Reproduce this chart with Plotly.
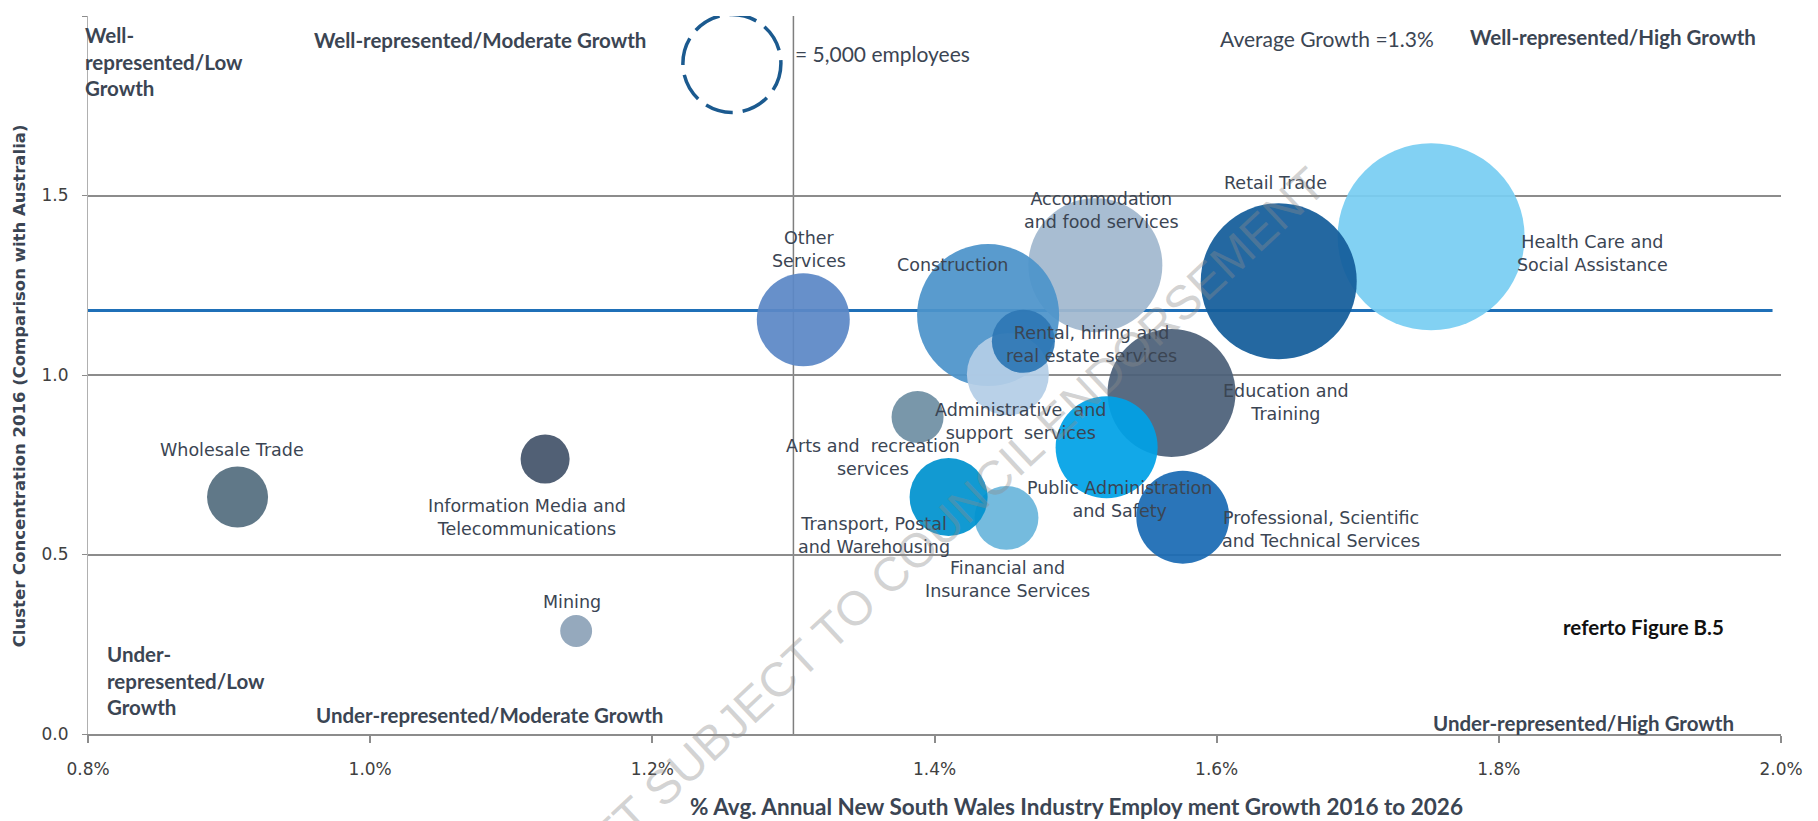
import math
import plotly.graph_objects as go

# industry clusters: growth (% p.a.), concentration (vs Australia), employees
industries = [
    "Wholesale Trade",
    "Information Media and<br>Telecommunications",
    "Mining",
    "Other<br>Services",
    "Health Care and<br>Social Assistance",
    "Retail Trade",
    "Accommodation<br>and food services",
    "Construction",
    "Administrative  and<br>support  services",
    "Rental, hiring and<br>real estate services",
    "Education and<br>Training",
    "Public Administration<br>and Safety",
    "Professional, Scientific<br>and Technical Services",
    "Arts and  recreation<br>services",
    "Financial and<br>Insurance Services",
    "Transport, Postal<br>and Warehousing",
]
growth = [0.906, 1.124, 1.146, 1.307, 1.752, 1.644, 1.514, 1.438, 1.452, 1.463,
          1.568, 1.522, 1.576, 1.388, 1.451, 1.410]
concentration = [0.660, 0.766, 0.287, 1.154, 1.385, 1.261, 1.306, 1.167, 1.002, 1.094,
                 0.950, 0.799, 0.604, 0.883, 0.602, 0.660]
employees = [1940, 1250, 530, 4500, 18200, 12670, 9350, 10500, 3500, 2070,
             8530, 5420, 4500, 1410, 2130, 3170]

legend_employees = 5000
legend_pos = (1.2564, 1.868)
avg_growth = 1.3
avg_concentration = 1.18
x_ticks = [0.8, 1.0, 1.2, 1.4, 1.6, 1.8, 2.0]
y_ticks = [0, 0.5, 1.0, 1.5, 2.0]

colors = ["#546e7f", "#44546a", "#8da3b8", "#5b88c6", "#79cdf2", "#135c9a", "#a1b8cf",
          "#4c93ca", "#b4cde6", "#2e77b5", "#4b6079", "#00a1e6", "#1a6bb4", "#6f8fa4",
          "#6bb6db", "#0092cf"]
# label offsets from bubble centre, in pixels (dx right, dy down)
label_off = [(-6, -47), (-18, 58), (-4, -29), (6, -70), (161, 17), (-3, -98), (6, -55),
             (-36, -50), (13, 47), (68, 3), (114, 10), (13, 52), (138, 12), (-45, 40),
             (1, 62), (-75, 38)]

# plotly area mode: radius = sqrt(v / 2 / sizeref); 5,000 employees -> 98px across
sizeref = 2 * legend_employees / 98 ** 2
text_col = "#3b4553"
grid_col = "#8c8c8c"

fig = go.Figure()
fig.add_trace(go.Scatter(
    x=growth, y=concentration, mode="markers",
    marker=dict(size=employees, sizemode="area", sizeref=sizeref, color=colors,
                opacity=0.93, line=dict(width=0)),
    text=industries, hoverinfo="text", showlegend=False))

anns = []
for i, name in enumerate(industries):
    dx, dy = label_off[i]
    anns.append(dict(x=growth[i], y=concentration[i], xref="x", yref="y", text=name,
                     showarrow=False, xshift=dx, yshift=-dy, align="center",
                     xanchor="center", yanchor="middle",
                     font=dict(family="DejaVu Sans", size=17.5, color=text_col)))

bold = dict(family="Lato", size=20.5, color=text_col, weight="bold")
reg = dict(family="Lato", size=21, color=text_col)
quad = [
    ("Well-<br>represented/Low<br>Growth", -0.003, 0.937, "left", bold),
    ("Well-represented/Moderate Growth", 0.2315, 0.966, "center", bold),
    ("Average Growth =1.3%", 0.732, 0.969, "center", reg),
    ("Well-represented/High Growth", 0.9008, 0.971, "center", bold),
    ("= 5,000 employees", 0.4164, 0.948, "left", reg),
    ("Under-<br>represented/Low<br>Growth", 0.010, 0.074, "left", bold),
    ("Under-represented/Moderate Growth", 0.2374, 0.026, "center", bold),
    ("Under-represented/High Growth", 0.8836, 0.015, "center", bold),
    ("referto Figure B.5", 0.9185, 0.149, "center", dict(bold, color="#111111")),
    ("% Avg. Annual New South Wales Industry Employ ment Growth 2016 to 2026",
     0.5836, -0.101, "center", dict(bold, size=22.5)),
]
for txt, px, py, anc, f in quad:
    anns.append(dict(x=px, y=py, xref="paper", yref="paper", text=txt, showarrow=False,
                     xanchor=anc, yanchor="middle", align="left", font=f))

anns.append(dict(x=-0.040, y=0.4847, xref="paper", yref="paper", textangle=-90,
                 xanchor="center", yanchor="middle",
                 text="Cluster Concentration 2016 (Comparison with Australia)",
                 showarrow=False,
                 font=dict(family="DejaVu Sans", size=16.5, color=text_col, weight="bold")))

# watermark
anns.append(dict(x=0.4926, y=0.2625, xref="paper", yref="paper", textangle=-43,
                 xanchor="center", yanchor="middle",
                 text="DRAFT SUBJECT TO COUNCIL ENDORSEMENT", showarrow=False,
                 font=dict(family="Liberation Sans", size=48, color="rgba(140,140,140,0.38)")))

r = math.sqrt(legend_employees / 2 / sizeref)
shapes = [
    dict(type="line", xref="x", yref="y", x0=avg_growth, x1=avg_growth, y0=0, y1=2,
         line=dict(color="#7f7f7f", width=1.5), layer="below"),
    dict(type="line", xref="x", yref="y", x0=0.8, x1=1.994, y0=avg_concentration,
         y1=avg_concentration, line=dict(color="#1f70b8", width=3), layer="below"),
    dict(type="circle", xref="x", yref="y", xsizemode="pixel", ysizemode="pixel",
         xanchor=legend_pos[0], yanchor=legend_pos[1], x0=-r, x1=r, y0=-r, y1=r,
         line=dict(color="#1b5a8f", width=3.5, dash="28px,10px")),
]

# page body has an 8px margin, so the figure is 8px smaller each way
fig.update_layout(
    width=1810, height=813,
    margin=dict(l=80, r=37, t=8, b=87),
    paper_bgcolor="white", plot_bgcolor="white",
    annotations=anns, shapes=shapes,
    xaxis=dict(range=[0.8, 2.0], tickvals=x_ticks,
               ticktext=[f"{v:.1f}%" for v in x_ticks], showgrid=False, zeroline=False,
               showline=True, linecolor=grid_col, linewidth=2,
               ticks="outside", ticklen=7, tickcolor=grid_col, tickwidth=1.5,
               ticklabelstandoff=12,
               tickfont=dict(family="DejaVu Sans", size=17, color="#404040")),
    yaxis=dict(range=[0, 2.0], tickvals=y_ticks,
               ticktext=[f"{v:.1f}" for v in y_ticks],
               showgrid=True, gridcolor=grid_col, gridwidth=1.5, zeroline=False,
               showline=True, linecolor="#b0b0b0", linewidth=1,
               ticks="outside", ticklen=5, tickcolor=grid_col,
               ticklabelstandoff=10,
               tickfont=dict(family="DejaVu Sans", size=17, color="#404040")),
)

fig.write_html("out.html")
